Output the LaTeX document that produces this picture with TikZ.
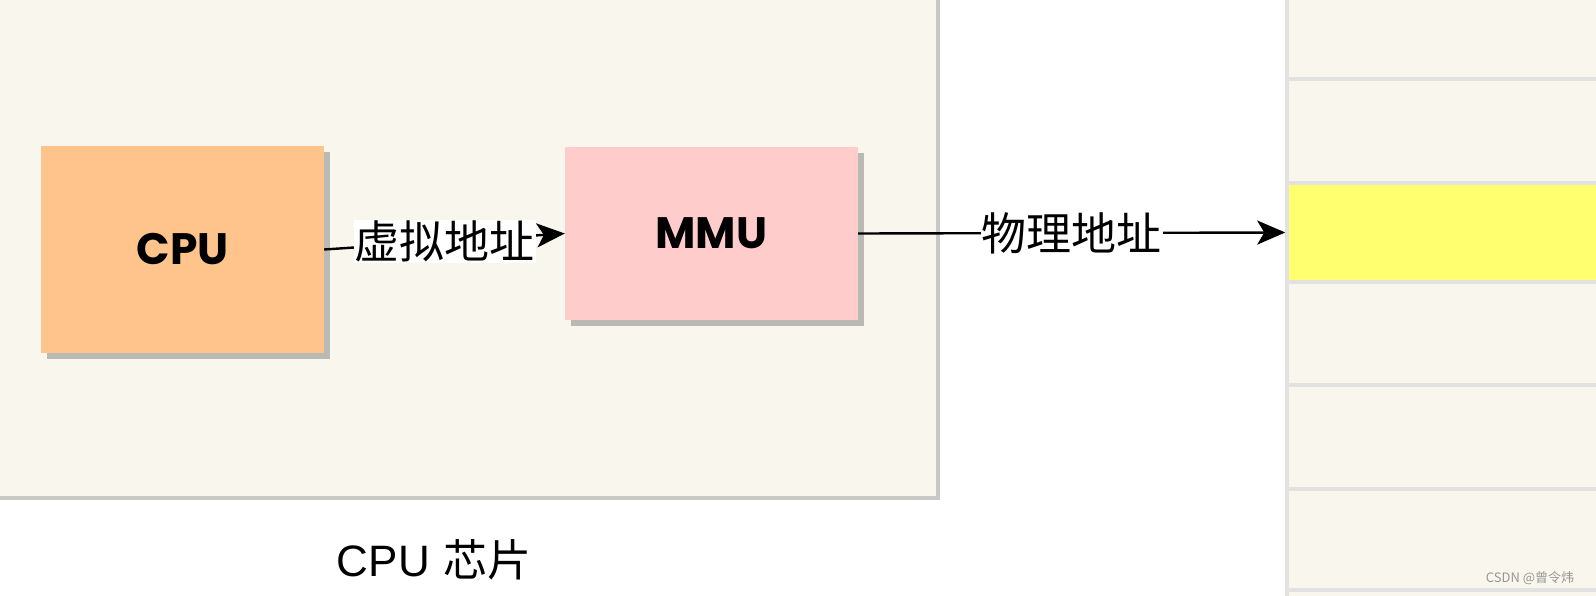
\documentclass[tikz,border=0pt]{standalone}
\usepackage{fontspec}
\newfontfamily\cjk{Noto Sans CJK SC}
\newfontfamily\lib{Liberation Sans}
\newfontfamily\hand{Poppins}
\usetikzlibrary{arrows.meta,shadows}
\definecolor{cream}{RGB}{249,247,237}
\definecolor{cpuorange}{RGB}{255,196,140}
\definecolor{mmupink}{RGB}{255,204,204}
\definecolor{memyellow}{RGB}{255,255,112}
\definecolor{shadowgray}{RGB}{186,186,180}
\definecolor{chipgray}{RGB}{200,200,198}
\definecolor{memline}{RGB}{226,226,226}
\definecolor{wmgray}{RGB}{150,150,150}
\tikzset{
  chipbox/.style={rectangle, inner sep=0, fill=cream, minimum width=946pt, minimum height=506pt,
    drop shadow={shadow xshift=4pt, shadow yshift=-4pt, fill=chipgray, opacity=1}},
  unitbox/.style={rectangle, inner sep=0, font=\hand\bfseries\fontsize{44}{44}\selectfont,
    drop shadow={shadow xshift=6pt, shadow yshift=-6pt, fill=shadowgray, opacity=1}},
  memrow/.style={rectangle, inner sep=0, draw=memline, line width=3.5pt, minimum width=330pt},
  arr/.style={-{Stealth[length=28pt,width=24pt,inset=7pt]}, line width=2.4pt, black},
  lbl/.style={fill=white, inner sep=1pt, font=\cjk\fontsize{45}{45}\selectfont},
}
\begin{document}
\begin{tikzpicture}[x=1pt,y=-1pt]
\useasboundingbox (0,0) rectangle (1596,596);
\fill[white] (0,0) rectangle (1596,596);

% CPU chip
\node[chipbox] (chip) at (463,243) {};
\node[font=\fontsize{44}{44}\selectfont] (chiplbl) at (434,560) {{\lib CPU} {\cjk 芯片}};

% units
\node[unitbox, fill=cpuorange, minimum width=283pt, minimum height=207pt] (cpu) at (182.5,249.5) {CPU};
\node[unitbox, fill=mmupink, minimum width=293pt, minimum height=173pt] (mmu) at (711.5,233.5) {MMU};

% memory column
\node[memrow, fill=cream, minimum height=89pt]  (m0) at (1452,34.5) {};
\node[memrow, fill=cream, minimum height=104pt] (m1) at (1452,131) {};
\node[memrow, fill=memyellow, minimum height=99pt] (m2) at (1452,232.5) {};
\node[memrow, fill=cream, minimum height=103pt] (m3) at (1452,333.5) {};
\node[memrow, fill=cream, minimum height=104pt] (m4) at (1452,437) {};
\node[memrow, fill=cream, minimum height=101pt] (m5) at (1452,539.5) {};
\node[memrow, fill=cream, minimum height=40pt]  (m6) at (1452,610) {};

% connectors
\draw[arr] (cpu.east) -- node[lbl] (va) {虚拟地址} (mmu.west);
\draw[arr] (mmu.east) -- node[lbl] (pa) {物理地址} (m2.west);

% watermark
\node[font=\cjk\fontsize{13}{13}\selectfont, text=wmgray] (wm) at (1530,578) {CSDN @曾令炜};
\end{tikzpicture}
\end{document}
